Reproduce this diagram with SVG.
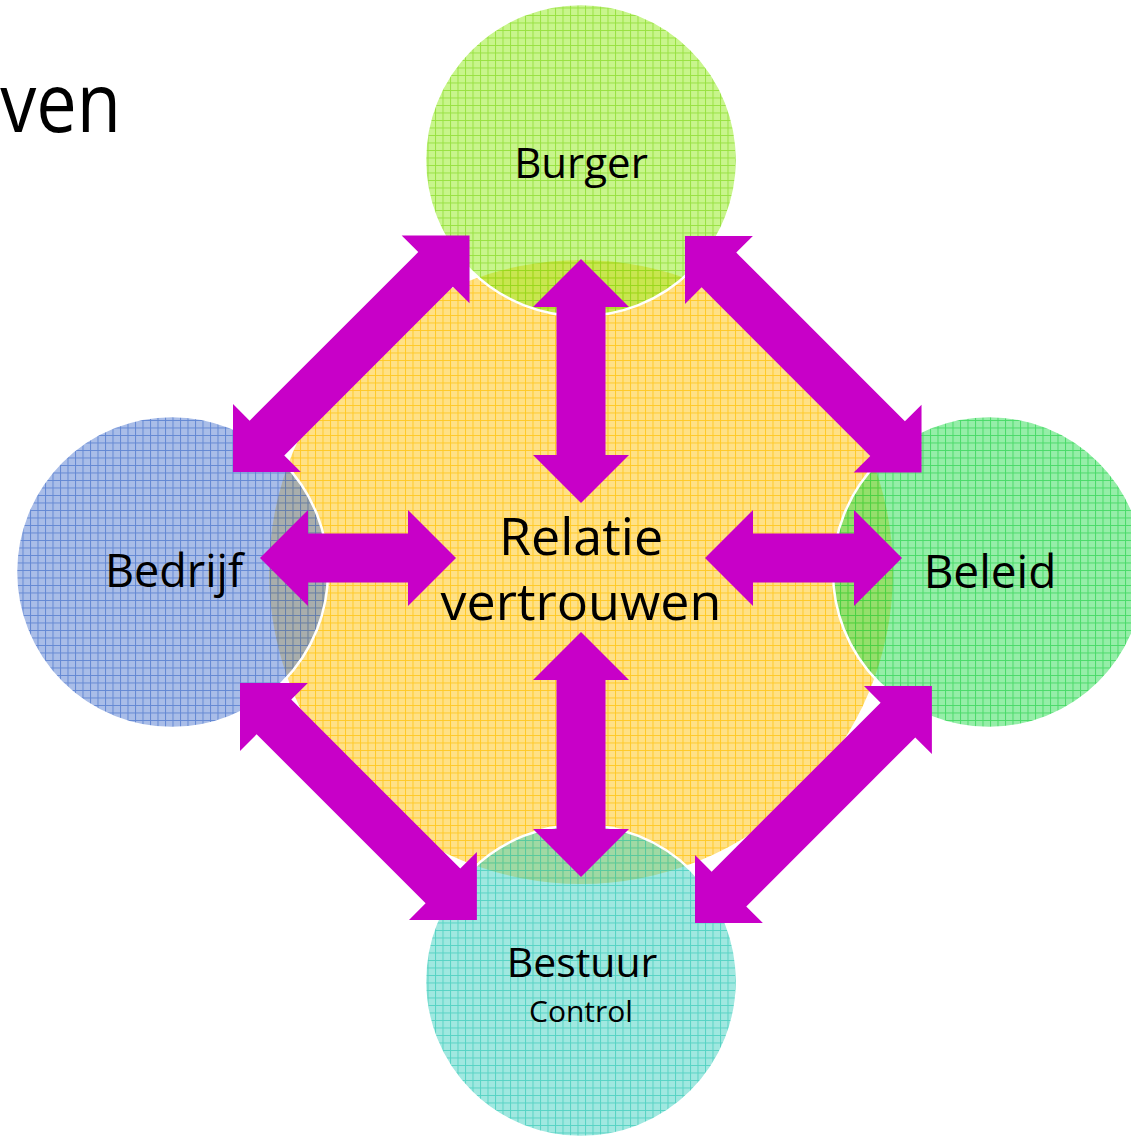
<svg xmlns="http://www.w3.org/2000/svg" width="1131" height="1137" viewBox="0 0 1131 1137">
<style>
  .lbl { font-family: "Open Sans", "Liberation Sans", sans-serif; fill: #000; text-anchor: middle; }
  .arrow { fill: #c800c8; }
  .outer { stroke: #ffffff; stroke-width: 2.5; }
</style>
<defs>
  <pattern id="pY" patternUnits="userSpaceOnUse" width="7.5" height="7.5">
    <rect width="7.5" height="7.5" fill="#ffc000" fill-opacity="0.47"/>
    <path d="M0 0.5H7.5M0.5 0V7.5" stroke="#ffc000" stroke-width="1" stroke-opacity="0.7" fill="none"/>
  </pattern>
  <pattern id="pG" patternUnits="userSpaceOnUse" width="7.5" height="7.5">
    <rect width="7.5" height="7.5" fill="#91eb19" fill-opacity="0.5"/>
    <path d="M0 0.5H7.5M0.5 0V7.5" stroke="#7fd81a" stroke-width="1" stroke-opacity="0.65" fill="none"/>
  </pattern>
  <pattern id="pB" patternUnits="userSpaceOnUse" width="7.5" height="7.5">
    <rect width="7.5" height="7.5" fill="#537bd1" fill-opacity="0.5"/>
    <path d="M0 0.5H7.5M0.5 0V7.5" stroke="#3f6cc8" stroke-width="1" stroke-opacity="0.65" fill="none"/>
  </pattern>
  <pattern id="pL" patternUnits="userSpaceOnUse" width="7.5" height="7.5">
    <rect width="7.5" height="7.5" fill="#2bdd51" fill-opacity="0.5"/>
    <path d="M0 0.5H7.5M0.5 0V7.5" stroke="#22d048" stroke-width="1" stroke-opacity="0.65" fill="none"/>
  </pattern>
  <pattern id="pT" patternUnits="userSpaceOnUse" width="7.5" height="7.5">
    <rect width="7.5" height="7.5" fill="#41d1c1" fill-opacity="0.5"/>
    <path d="M0 0.5H7.5M0.5 0V7.5" stroke="#30c8b6" stroke-width="1" stroke-opacity="0.65" fill="none"/>
  </pattern>
</defs>

<g id="title">
  <text class="lbl" style="text-anchor:end" font-size="82" transform="translate(121 132) scale(0.88 1)" x="0" y="0">ven</text>
</g>

<g id="center">
  <circle cx="581" cy="572" r="312" fill="url(#pY)"/>
</g>

<g id="burger">
  <circle class="outer" cx="581" cy="160" r="156" fill="url(#pG)"/>
  <text class="lbl" x="581" y="178" font-size="42">Burger</text>
</g>

<g id="bedrijf">
  <circle class="outer" cx="172" cy="572" r="156" fill="url(#pB)"/>
  <text class="lbl" x="174" y="587" font-size="45">Bedrijf</text>
</g>

<g id="beleid">
  <circle class="outer" cx="989" cy="572" r="156" fill="url(#pL)"/>
  <text class="lbl" x="990" y="588" font-size="46">Beleid</text>
</g>

<g id="bestuur">
  <circle class="outer" cx="581" cy="981" r="156" fill="url(#pT)"/>
  <text class="lbl" x="582" y="977" font-size="41">Bestuur</text>
  <text class="lbl" x="581" y="1022" font-size="30">Control</text>
</g>

<g id="center-label">
  <text class="lbl" x="581" y="555" font-size="52">Relatie</text>
  <text class="lbl" x="581" y="620" font-size="52">vertrouwen</text>
</g>

<g id="connectors">
  <path class="arrow" transform="translate(581 259) rotate(90)" d="M0 0L48 -48L48 -24.5L196 -24.5L196 -48L244 0L196 48L196 24.5L48 24.5L48 48Z"/>
  <path class="arrow" transform="translate(581 632) rotate(90)" d="M0 0L48 -48L48 -24.5L197 -24.5L197 -48L245 0L197 48L197 24.5L48 24.5L48 48Z"/>
  <path class="arrow" transform="translate(260 558)" d="M0 0L48 -48L48 -24.5L148 -24.5L148 -48L196 0L148 48L148 24.5L48 24.5L48 48Z"/>
  <path class="arrow" transform="translate(705 558)" d="M0 0L48 -48L48 -24.5L149 -24.5L149 -48L197 0L149 48L149 24.5L48 24.5L48 48Z"/>
  <path class="arrow" transform="translate(233 472) rotate(-45)" d="M0 0L48 -48L48 -24.5L286.5 -24.5L286.5 -48L334.5 0L286.5 48L286.5 24.5L48 24.5L48 48Z"/>
  <path class="arrow" transform="translate(685 236) rotate(45)" d="M0 0L48 -48L48 -24.5L286.5 -24.5L286.5 -48L334.5 0L286.5 48L286.5 24.5L48 24.5L48 48Z"/>
  <path class="arrow" transform="translate(240 683) rotate(45)" d="M0 0L48 -48L48 -24.5L287 -24.5L287 -48L335 0L287 48L287 24.5L48 24.5L48 48Z"/>
  <path class="arrow" transform="translate(695 923) rotate(-45)" d="M0 0L48 -48L48 -24.5L287 -24.5L287 -48L335 0L287 48L287 24.5L48 24.5L48 48Z"/>
</g>
</svg>
